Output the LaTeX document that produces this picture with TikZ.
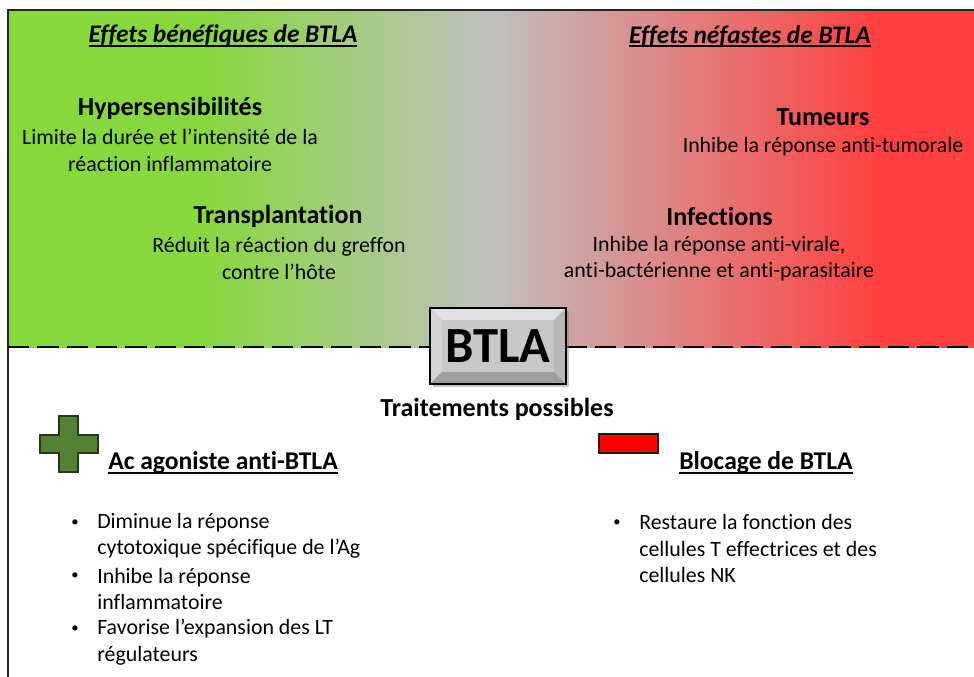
\documentclass[tikz,border=0pt]{standalone}
\usepackage{fontspec}
\setmainfont[Ligatures=NoCommon]{Carlito}
\usetikzlibrary{calc,shadows}
\newcommand\myul[1]{\setbox0\hbox{#1}\rlap{\vrule height -1.6pt depth 2.8pt width \wd0}\box0}
\definecolor{cgreen}{RGB}{134,216,60}
\definecolor{cgray}{RGB}{192,192,190}
\definecolor{cred}{RGB}{255,64,64}
\definecolor{crossgreen}{RGB}{84,130,53}
\definecolor{crossedge}{RGB}{40,55,30}
\pgfdeclarehorizontalshading{effets}{100bp}{color(0bp)=(cgreen); color(35bp)=(cgreen); color(50bp)=(cgray); color(70bp)=(cred); color(100bp)=(cred)}
\begin{document}
\begin{tikzpicture}[x=0.75pt,y=-0.75pt,
  body/.style={font=\fontsize{16.4}{19.9}\selectfont, inner sep=0pt, align=center},
  head/.style={font=\fontsize{19.5}{22}\selectfont\bfseries, inner sep=0pt},
  title/.style={font=\fontsize{19}{22}\selectfont\bfseries\itshape, inner sep=0pt},
  sub/.style={font=\fontsize{19.2}{22}\selectfont\bfseries, inner sep=0pt, anchor=west},
  bul/.style={font=\fontsize{11}{12}\selectfont, inner sep=0pt},
  item/.style={font=\fontsize{16.4}{19.9}\selectfont, inner sep=0pt, align=left, anchor=west},
  frameline/.style={draw=black!85, line width=1.5pt},
  bevelbox/.style={draw=black, line width=1.2pt, fill={rgb,255:red,200;green,200;blue,200},
    minimum width=102pt, minimum height=57pt, inner sep=0pt,
    font=\fontsize{38}{42}\selectfont\bfseries,
    drop shadow={opacity=0.45, shadow xshift=2pt, shadow yshift=-2.5pt},
    path picture={
      \coordinate (pnw) at (path picture bounding box.north west);
      \coordinate (pne) at (path picture bounding box.north east);
      \coordinate (psw) at (path picture bounding box.south west);
      \coordinate (pse) at (path picture bounding box.south east);
      \fill[white!88!black] (pnw) -- (pne) -- ($(pne)+(-9pt,-9pt)$) -- ($(pnw)+(9pt,-9pt)$) -- cycle;
      \fill[white!83!black] (pnw) -- ($(pnw)+(9pt,-9pt)$) -- ($(psw)+(9pt,9pt)$) -- (psw) -- cycle;
      \fill[white!72!black] (pne) -- ($(pne)+(-9pt,-9pt)$) -- ($(pse)+(-9pt,9pt)$) -- (pse) -- cycle;
      \fill[white!62!black] (psw) -- ($(psw)+(9pt,9pt)$) -- ($(pse)+(-9pt,9pt)$) -- (pse) -- cycle;
    }}
]
\useasboundingbox (0,0) rectangle (974,677);
\fill[white] (0,0) rectangle (974,677);
% gradient panel
\shade[shading=effets] (8,10) rectangle (974,347);
% frame
\draw[frameline] (974,10) -- (8,10) -- (8,677);
% dashed separator
\draw[black, line width=2.2pt, dash pattern=on 16pt off 6pt] (8,347) -- (974,347);
% titles
\node[title] (t1) at (223,36) {\myul{Effets bénéfiques de BTLA}};
\node[title] (t2) at (750,36) {\myul{Effets néfastes de BTLA}};
% left effects
\node[head] (h1) at (170,108) {Hypersensibilités};
\node[body] (b1) at (170,150.5) {Limite la durée et l’intensité de la\\réaction inflammatoire};
\node[head] (h2) at (278,216) {Transplantation};
\node[body] (b2) at (279,258.5) {Réduit la réaction du greffon\\contre l’hôte};
% right effects
\node[head] (h3) at (823,117) {Tumeurs};
\node[body] (b3) at (823,146.5) {Inhibe la réponse anti-tumorale};
\node[head] (h4) at (719.5,216) {Infections};
\node[body] (b4) at (719,258.5) {Inhibe la réponse anti-virale,\\anti-bactérienne et anti-parasitaire};
% BTLA box
\node[bevelbox] (btla) at (498,346) {BTLA};
\node[head] (tp) at (497,409) {Traitements possibles};
% cross
\filldraw[fill=crossgreen, draw=crossedge, line width=1.3pt]
  (59,416) -- (78,416) -- (78,435) -- (98,435) -- (98,453) -- (78,453) -- (78,472)
  -- (59,472) -- (59,453) -- (40,453) -- (40,435) -- (59,435) -- cycle;
\node[sub] (s1) at (108,463) {\myul{Ac agoniste anti-BTLA}};
% minus
\filldraw[fill=red, draw=black!90, line width=1.3pt] (599,434) rectangle (658,453);
\node[sub] (s2) at (679,463) {\myul{Blocage de BTLA}};
% left bullets
\node[bul] (d1) at (75,523) {•};
\node[item] (i1) at (97,536) {Diminue la réponse\\cytotoxique spécifique de l’Ag};
\node[bul] (d2) at (75,576) {•};
\node[item] (i2) at (97,589) {Inhibe la réponse\\inflammatoire};
\node[bul] (d3) at (75,629) {•};
\node[item] (i3) at (97,642) {Favorise l’expansion des LT\\régulateurs};
% right bullets
\node[bul] (d4) at (617,523) {•};
\node[item] (i4) at (639,548.5) {Restaure la fonction des\\cellules T effectrices et des\\cellules NK};
\end{tikzpicture}
\end{document}
